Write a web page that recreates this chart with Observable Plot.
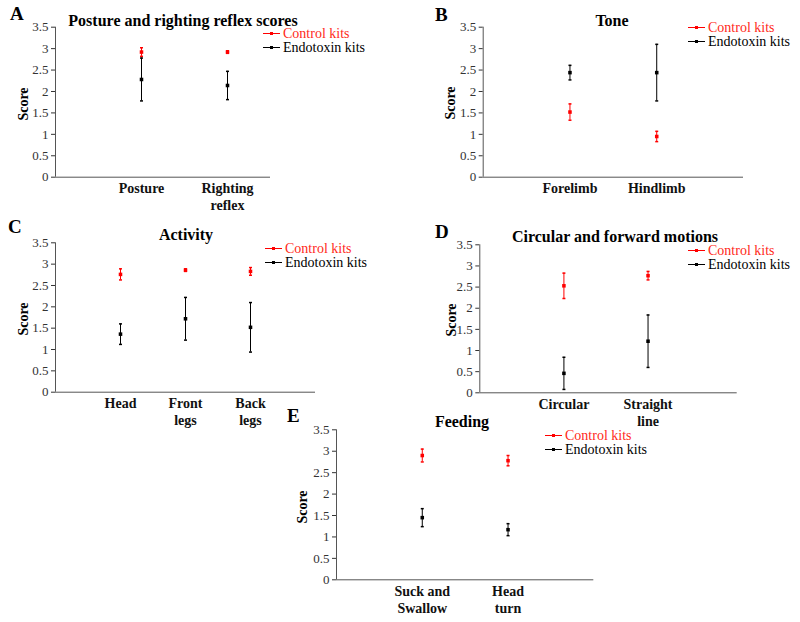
<!DOCTYPE html>
<html><head><meta charset="utf-8">
<script src="https://cdn.jsdelivr.net/npm/d3@7"></script>
<script src="https://cdn.jsdelivr.net/npm/@observablehq/plot@0.6"></script>
<style>
body{margin:0;background:#fff;}
#root{position:relative;width:800px;height:622px;overflow:hidden;background:#fff;}
#root svg{position:absolute;left:0;top:0;}
</style></head><body>
<div id="root"></div>
<script>
// ---- data ----
const series = ["Control kits", "Endotoxin kits"];
const seriesColors = ["#ff0000", "#000000"];
const scoreTicks = [0, 0.5, 1, 1.5, 2, 2.5, 3, 3.5];

const titleA = "Posture and righting reflex scores";
const catsA = ["Posture", "Righting\nreflex"];
const ctrlMeanA = [2.92, 2.92];
const ctrlErrA = [0.10, 0.03];
const endoMeanA = [2.28, 2.14];
const endoErrA = [0.50, 0.33];

const titleB = "Tone";
const catsB = ["Forelimb", "Hindlimb"];
const ctrlMeanB = [1.52, 0.95];
const ctrlErrB = [0.19, 0.12];
const endoMeanB = [2.44, 2.44];
const endoErrB = [0.17, 0.66];

const titleC = "Activity";
const catsC = ["Head", "Front\nlegs", "Back\nlegs"];
const ctrlMeanC = [2.76, 2.86, 2.83];
const ctrlErrC = [0.13, 0.03, 0.09];
const endoMeanC = [1.36, 1.72, 1.52];
const endoErrC = [0.24, 0.50, 0.58];

const titleD = "Circular and forward motions";
const catsD = ["Circular", "Straight\nline"];
const ctrlMeanD = [2.53, 2.77];
const ctrlErrD = [0.30, 0.10];
const endoMeanD = [0.46, 1.22];
const endoErrD = [0.38, 0.62];

const titleE = "Feeding";
const catsE = ["Suck and\nSwallow", "Head\nturn"];
const ctrlMeanE = [2.90, 2.78];
const ctrlErrE = [0.15, 0.12];
const endoMeanE = [1.45, 1.17];
const endoErrE = [0.21, 0.14];

// ---- layout (page pixels) ----
const panels = [
  {letter:"A", title:titleA, cats:catsA, cm:ctrlMeanA, ce:ctrlErrA, em:endoMeanA, ee:endoErrA,
   x0:55, x1:270, yTop:26.7, yBot:176.7, xMax:2.5,
   letterPos:[10,20], titlePos:[183,26], scorePos:[28,104], legPos:[263,38]},
  {letter:"B", title:titleB, cats:catsB, cm:ctrlMeanB, ce:ctrlErrB, em:endoMeanB, ee:endoErrB,
   x0:482.7, x1:743, yTop:26.7, yBot:176.7, xMax:3,
   letterPos:[435,21], titlePos:[612,26], scorePos:[455,103], legPos:[688,32]},
  {letter:"C", title:titleC, cats:catsC, cm:ctrlMeanC, ce:ctrlErrC, em:endoMeanC, ee:endoErrC,
   x0:55, x1:315, yTop:242.3, yBot:391.7, xMax:4,
   letterPos:[8,233], titlePos:[186,240], scorePos:[28,319], legPos:[265,253]},
  {letter:"D", title:titleD, cats:catsD, cm:ctrlMeanD, ce:ctrlErrD, em:endoMeanD, ee:endoErrD,
   x0:479.3, x1:736.7, yTop:244.3, yBot:392.3, xMax:3.06,
   letterPos:[435,238], titlePos:[615,242], scorePos:[456,320], legPos:[688,255]},
  {letter:"E", title:titleE, cats:catsE, cm:ctrlMeanE, ce:ctrlErrE, em:endoMeanE, ee:endoErrE,
   x0:336, x1:593.3, yTop:429.3, yBot:579.3, xMax:3,
   letterPos:[287,422], titlePos:[462,427], scorePos:[307,507], legPos:[545,440]}
];

const W = 800, H = 622;
const FONT = "Liberation Serif";
const root = document.getElementById("root");

const capSymbol = {
  draw(ctx, size) {
    const r = Math.sqrt(size / Math.PI);
    ctx.moveTo(-r, 0); ctx.lineTo(r, 0);
  }
};

for (const p of panels) {
  const rows = [];
  p.cats.forEach((c, i) => {
    rows.push({pos: i + 1, series: series[0], mean: p.cm[i], err: p.ce[i]});
    rows.push({pos: i + 1, series: series[1], mean: p.em[i], err: p.ee[i]});
  });
  const chart = Plot.plot({
    width: W, height: H,
    marginLeft: p.x0, marginRight: W - p.x1, marginTop: p.yTop, marginBottom: H - p.yBot,
    style: {background: "transparent", overflow: "visible"},
    x: {domain: [0, p.xMax], axis: null},
    y: {domain: [0, 3.5], axis: null},
    color: {type: "ordinal", domain: series, range: seriesColors},
    marks: [
      Plot.axisY({ticks: scoreTicks, tickFormat: d => String(d), tickSize: 4, tickPadding: 3,
                  fontSize: 13, color: "#333", label: null, fontFamily: FONT}),
      Plot.ruleY([0], {stroke: "#555"}),
      Plot.ruleX([0], {stroke: "#555"}),
      Plot.text(p.cats, {x: (d, i) => i + 1, text: d => d, frameAnchor: "bottom", lineAnchor: "top",
                dy: 4, lineHeight: 1.2, fontWeight: "bold", fontSize: 14, fill: "#111", fontFamily: FONT}),
      Plot.ruleX(rows, {x: "pos", y1: d => d.mean - d.err, y2: d => d.mean + d.err, stroke: "series", strokeWidth: 1}),
      Plot.dot(rows, {x: "pos", y: d => d.mean - d.err, symbol: capSymbol, r: 1.5, stroke: "series", fill: "none"}),
      Plot.dot(rows, {x: "pos", y: d => d.mean + d.err, symbol: capSymbol, r: 1.5, stroke: "series", fill: "none"}),
      Plot.dot(rows, {x: "pos", y: "mean", symbol: "square", r: 2, fill: "series"})
    ]
  });
  root.appendChild(chart);
}

// ---- annotations overlay: letters, titles, y labels, legends ----
const ov = d3.select(root).append("svg").attr("width", W).attr("height", H).attr("font-family", FONT);
for (const p of panels) {
  ov.append("text").attr("x", p.letterPos[0]).attr("y", p.letterPos[1])
    .attr("font-weight", "bold").attr("font-size", 19).text(p.letter);
  ov.append("text").attr("x", p.titlePos[0]).attr("y", p.titlePos[1])
    .attr("text-anchor", "middle").attr("font-weight", "bold").attr("font-size", 16).text(p.title);
  ov.append("text").attr("transform", `translate(${p.scorePos[0]},${p.scorePos[1]}) rotate(-90)`)
    .attr("text-anchor", "middle").attr("font-weight", "bold").attr("font-size", 14).text("Score");
  series.forEach((s, k) => {
    const bx = p.legPos[0], by = p.legPos[1] + k * 14;
    const col = seriesColors[k];
    ov.append("line").attr("x1", bx).attr("x2", bx + 17).attr("y1", by - 4.5).attr("y2", by - 4.5)
      .attr("stroke", col).attr("stroke-width", 1);
    ov.append("rect").attr("x", bx + 7).attr("y", by - 6).attr("width", 3).attr("height", 3).attr("fill", col);
    ov.append("text").attr("x", bx + 20).attr("y", by).attr("font-size", 14)
      .attr("fill", k === 0 ? "#ff2a1a" : "#000").text(s);
  });
}

// force the serif face on every text, overriding any stylesheet rule
function forceFont() {
  root.querySelectorAll("svg, g, text, tspan").forEach(el => {
    el.setAttribute("font-family", FONT);
    el.style.setProperty("font-family", "'Liberation Serif', serif", "important");
  });
}
forceFont();
requestAnimationFrame(forceFont);
</script></body></html>
